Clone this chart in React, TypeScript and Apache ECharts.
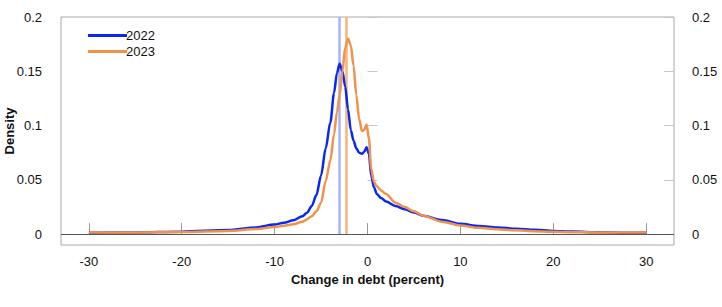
import React, { useEffect, useRef } from "react";
import * as echarts from "echarts";

const xs2022 = [-30, -25, -20, -15, -12, -10, -9, -8, -7, -6.5, -6, -5.5, -5, -4.5, -4, -3.6, -3.3, -3.0, -2.7, -2.4, -2.1, -1.8, -1.5, -1.2, -0.9, -0.6, -0.35, -0.1, 0.15, 0.4, 0.7, 1.0, 1.5, 2, 3, 4, 5, 6, 8, 10, 12, 14, 16, 18, 20, 22, 25, 28, 30];
const ys2022 = [0.0012, 0.0016, 0.0023, 0.0038, 0.0062, 0.0088, 0.0105, 0.0127, 0.0165, 0.0198, 0.026, 0.036, 0.054, 0.079, 0.103, 0.13, 0.148, 0.157, 0.15, 0.136, 0.115, 0.096, 0.086, 0.079, 0.075, 0.074, 0.076, 0.08, 0.074, 0.054, 0.043, 0.037, 0.033, 0.03, 0.026, 0.023, 0.02, 0.017, 0.013, 0.0095, 0.0075, 0.0062, 0.005, 0.004, 0.003, 0.0024, 0.0017, 0.0013, 0.0012];

const xs2023 = [-30, -25, -20, -15, -12, -10, -9, -8, -7, -6.5, -6, -5.5, -5, -4.5, -4, -3.6, -3.3, -3.0, -2.7, -2.4, -2.1, -1.8, -1.5, -1.2, -0.9, -0.6, -0.35, -0.1, 0.15, 0.4, 0.7, 1.0, 1.5, 2, 3, 4, 5, 6, 8, 10, 12, 14, 16, 18, 20, 22, 25, 28, 30];
const ys2023 = [0.0014, 0.0015, 0.0019, 0.003, 0.0047, 0.0066, 0.0077, 0.009, 0.0115, 0.0138, 0.0165, 0.021, 0.029, 0.049, 0.068, 0.092, 0.112, 0.128, 0.15, 0.172, 0.18, 0.174, 0.155, 0.128, 0.106, 0.095, 0.096, 0.101, 0.088, 0.06, 0.048, 0.044, 0.04, 0.037, 0.029, 0.025, 0.021, 0.017, 0.0115, 0.008, 0.0058, 0.0045, 0.0035, 0.0027, 0.0021, 0.0018, 0.0015, 0.0014, 0.0014];

const seriesNames = ["2022", "2023"];
const medians = [-3.0, -2.3];
const xTicks = [-30, -20, -10, 0, 10, 20, 30];
const yTicks = [0, 0.05, 0.1, 0.15, 0.2];

const lineColors = ["#0a26f6", "#f0924a"];
const medianColors = ["#a6b3fa", "#f8b47a"];
const FONT = "Liberation Sans, Arial, sans-serif";

export default function App() {
  const ref = useRef<HTMLDivElement>(null);
  useEffect(() => {
    if (!ref.current) return;
    const chart = echarts.init(ref.current, null, { renderer: "svg" });
    const yAxisCommon = {
      type: "value" as const,
      min: -0.01,
      max: 0.2,
      axisLine: { show: false },
      splitLine: { show: false },
      axisTick: {
        show: true,
        inside: true,
        length: 10,
        customValues: yTicks,
        lineStyle: { color: "#c8c8c8", width: 1 },
      },
      axisLabel: {
        customValues: yTicks,
        color: "#111",
        fontFamily: FONT,
        fontSize: 13,
        margin: 19,
        formatter: (v: number) => String(Math.round(v * 100) / 100),
      },
    };
    const data = [
      xs2022.map((x, i) => [x, ys2022[i]]),
      xs2023.map((x, i) => [x, ys2023[i]]),
    ];
    chart.setOption({
      animation: false,
      grid: {
        left: 61,
        right: 48,
        top: 17,
        bottom: 62,
        outerBoundsMode: "none",
        containLabel: false,
        show: true,
        borderColor: "#a8a8a8",
        borderWidth: 1,
      },
      legend: {
        orient: "vertical",
        left: 83,
        top: 24,
        itemGap: 3,
        itemWidth: 39,
        itemHeight: 3,
        icon: "rect",
        data: seriesNames,
        textStyle: { fontFamily: FONT, fontSize: 13, color: "#111", padding: [0, 0, 0, -6] },
      },
      xAxis: {
        type: "value",
        min: -33,
        max: 33,
        name: "Change in debt (percent)",
        nameLocation: "middle",
        nameGap: 28,
        nameTextStyle: { fontFamily: FONT, fontSize: 13, fontWeight: "bold", color: "#111" },
        axisLine: { show: false },
        splitLine: { show: false },
        axisTick: {
          show: true,
          inside: true,
          length: 11,
          customValues: xTicks,
          lineStyle: { color: "#999", width: 1 },
        },
        axisLabel: {
          customValues: xTicks,
          color: "#111",
          fontFamily: FONT,
          fontSize: 13,
          margin: 10,
          formatter: (v: number) => String(v),
        },
      },
      yAxis: [
        {
          ...yAxisCommon,
          position: "left",
          name: "Density",
          nameLocation: "middle",
          nameGap: 45,
          nameMoveOverlap: false,
          nameTextStyle: { fontFamily: FONT, fontSize: 13, fontWeight: "bold", color: "#111" },
        },
        { ...yAxisCommon, position: "right", axisLabel: { ...yAxisCommon.axisLabel, margin: 18 } },
      ],
      series: [
        ...seriesNames.map((name, i) => ({
          name,
          type: "line",
          data: data[i],
          symbol: "none",
          smooth: 0.3,
          smoothMonotone: "x",
          z: 3,
          lineStyle: { color: lineColors[i], width: 2.5 },
          itemStyle: { color: lineColors[i] },
          markLine: {
            silent: true,
            symbol: "none",
            z: 1,
            label: { show: false },
            data: [
              [
                { coord: [medians[i], 0], lineStyle: { color: medianColors[i], width: 2.5, type: "solid" } },
                { coord: [medians[i], 0.2] },
              ],
            ],
          },
        })),
        {
          name: "zero",
          type: "line",
          data: [],
          z: 2,
          markLine: {
            silent: true,
            symbol: "none",
            label: { show: false },
            lineStyle: { color: "#555", width: 1.2, type: "solid" },
            data: [{ yAxis: 0 }],
          },
        },
      ],
    });
    return () => chart.dispose();
  }, []);
  return <div ref={ref} style={{ width: 722, height: 307, position: "absolute", left: 0, top: 0 }} />;
}
